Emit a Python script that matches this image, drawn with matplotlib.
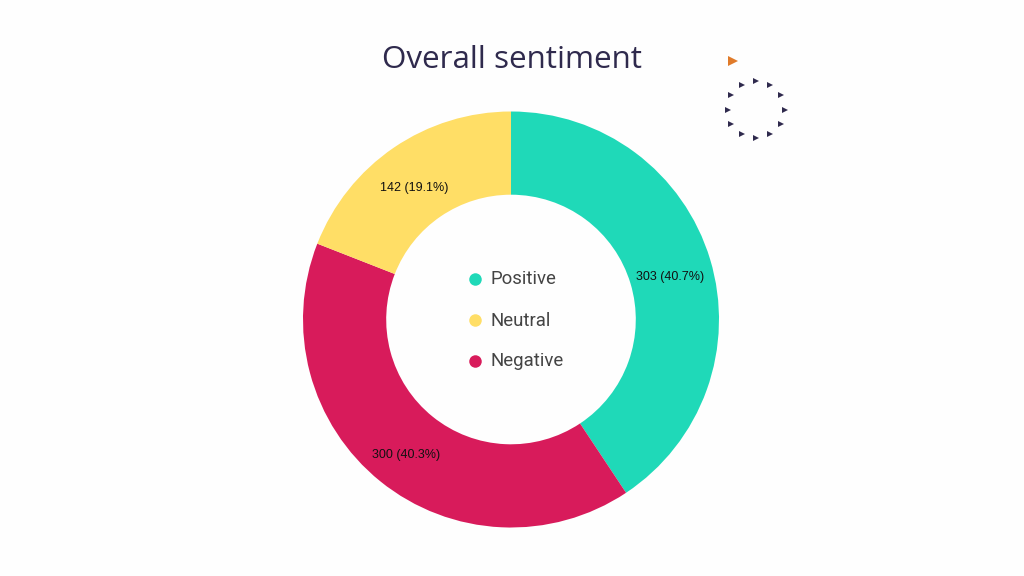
import numpy as np
import matplotlib
matplotlib.use('Agg')
import matplotlib.pyplot as plt

# Values, clockwise from the top
labels = ['Positive', 'Negative', 'Neutral']
values = [303, 300, 142]
colors = ['#1FD9B8', '#D81B5B', '#FFDE66']

# Legend order differs from the slice order
legend_labels = ['Positive', 'Neutral', 'Negative']
legend_colors = ['#1FD9B8', '#FFDE66', '#D81B5B']
legend_y = [279, 320, 361]

# Small triangles around the top right ring, angles in degrees
ring_angles = [0, 30, 60, 90, 120, 150, 180, 210, 240, 270, 300, 330]

W, H = 1024, 576
fig = plt.figure(figsize=(W / 100, H / 100), dpi=100, facecolor='#FEFEFE')

# Overlay in pixel coordinates for the text and decoration
bg = fig.add_axes([0, 0, 1, 1])
bg.set_xlim(0, W)
bg.set_ylim(H, 0)
bg.axis('off')

# Donut, radius 1 is 208 px
cx, cy, r = 511, 319.5, 208
ax = fig.add_axes([(cx - r) / W, 1 - (cy + r) / H, 2 * r / W, 2 * r / H])
total = sum(values)


def fmt(pct):
    return f'{round(pct * total / 100)} ({pct:.1f}%)'


wedges, texts, autotexts = ax.pie(
    values, colors=colors, startangle=90, counterclock=False, radius=1,
    wedgeprops={'width': 0.4, 'linewidth': 0}, autopct=fmt, pctdistance=0.795,
    textprops={'family': 'Liberation Sans', 'fontsize': 9, 'color': '#111111'})
ax.set_xlim(-1, 1)
ax.set_ylim(-1, 1)

# Nudge the labels to where they sit in the chart
nudges = [(0.005, -0.024), (-0.005, -0.035), (-0.015, -0.025)]
for t, (dx, dy) in zip(autotexts, nudges):
    x, y = t.get_position()
    t.set_position((x + dx, y + dy))

bg.text(512, 60, 'Overall sentiment', family='Open Sans', fontsize=22.6,
        color='#2F2A4D', ha='center', va='center')

# Legend in the hole
for name, col, ly in zip(legend_labels, legend_colors, legend_y):
    bg.plot(475, ly, 'o', ms=9, color=col, mew=0)
    bg.text(490.5, ly + 0.5, name, family='Roboto', fontsize=13.4, color='#444444',
            ha='left', va='center')

# Decoration
a = np.radians(ring_angles)
bg.plot(756 + 28.5 * np.sin(a), 109.7 - 28.5 * np.cos(a), '>', ms=5,
        color='#2F2A4D', mew=0, ls='none')
bg.plot(733, 61, '>', ms=6.5, color='#E07B2A', mew=0)

fig.savefig('out.png', dpi=100, facecolor=fig.get_facecolor())
